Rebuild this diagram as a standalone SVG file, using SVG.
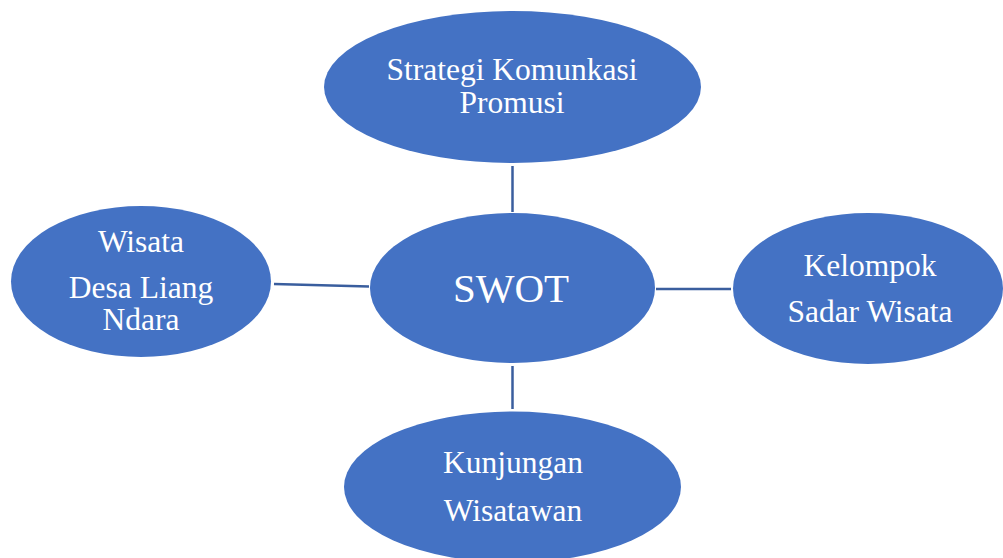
<svg xmlns="http://www.w3.org/2000/svg" width="1003" height="558" viewBox="0 0 1003 558">
<style>
.node{fill:#4472C4;}
.lbl{fill:#FFFFFF;font-family:"Liberation Serif","Times New Roman",serif;font-size:31.5px;text-anchor:middle;}
.big{font-size:41px;}
.conn{stroke:#3A5E9E;stroke-width:2.5;fill:none;}
</style>
<rect width="1003" height="558" fill="#FFFFFF"/>
<g id="connectors">
<line class="conn" x1="512.5" y1="166" x2="512.5" y2="212"/>
<line class="conn" x1="274" y1="284" x2="369" y2="286.5"/>
<line class="conn" x1="656" y1="289" x2="731" y2="289"/>
<line class="conn" x1="512.5" y1="366" x2="512.5" y2="409"/>
</g>
<g id="node-strategi">
<ellipse class="node" cx="512.5" cy="87" rx="188.5" ry="76"/>
<text class="lbl" x="512" y="80">Strategi Komunkasi</text>
<text class="lbl" x="512" y="113">Promusi</text>
</g>
<g id="node-swot">
<ellipse class="node" cx="512.5" cy="288" rx="142.5" ry="75"/>
<text class="lbl big" x="511" y="302">SWOT</text>
</g>
<g id="node-wisata">
<ellipse class="node" cx="141" cy="281.5" rx="130" ry="75.5"/>
<text class="lbl" x="141" y="252">Wisata</text>
<text class="lbl" x="141" y="298">Desa Liang</text>
<text class="lbl" x="141" y="330">Ndara</text>
</g>
<g id="node-kelompok">
<ellipse class="node" cx="868" cy="288.5" rx="135" ry="75.5"/>
<text class="lbl" x="870" y="276">Kelompok</text>
<text class="lbl" x="870" y="322">Sadar Wisata</text>
</g>
<g id="node-kunjungan">
<ellipse class="node" cx="512.5" cy="487" rx="168.5" ry="75.5"/>
<text class="lbl" x="513" y="473">Kunjungan</text>
<text class="lbl" x="513" y="520.5">Wisatawan</text>
</g>
</svg>
